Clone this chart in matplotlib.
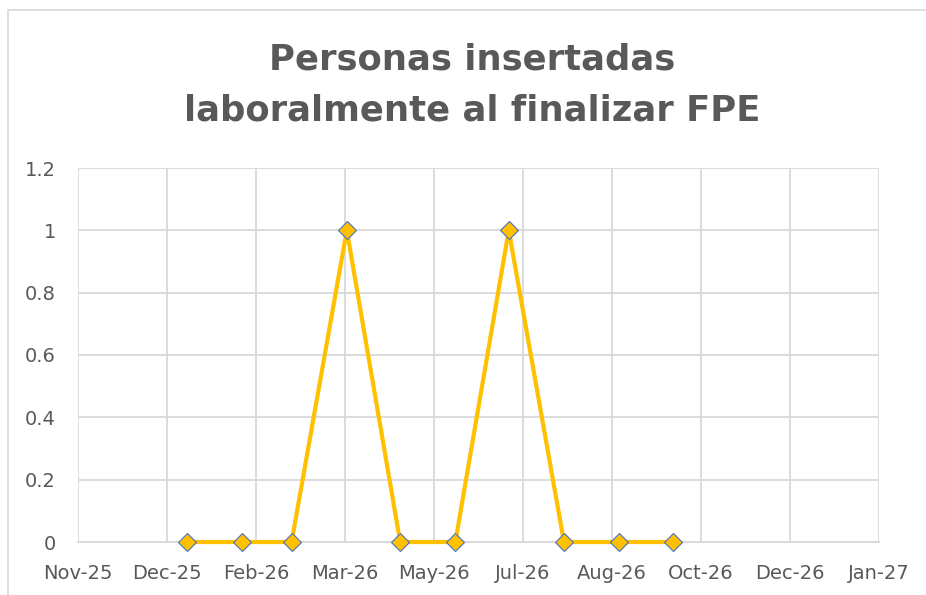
import datetime as dt
import matplotlib
matplotlib.use("Agg")
import matplotlib.pyplot as plt
import matplotlib.dates as mdates
from matplotlib.patches import Rectangle

# monthly values, Jan-26 .. Oct-26
months = [dt.date(2026, m, 1) for m in range(1, 11)]
values = [0, 0, 0, 1, 0, 0, 1, 0, 0, 0]

# date axis: Excel-style major unit of 50 days starting Nov-25
axis_start = dt.date(2025, 11, 1)
tick_dates = [axis_start + dt.timedelta(days=50 * i) for i in range(10)]
y_ticks = [0, 0.2, 0.4, 0.6, 0.8, 1, 1.2]
y_labels = ["0", "0.2", "0.4", "0.6", "0.8", "1", "1.2"]

title = "Personas insertadas\nlaboralmente al finalizar FPE"

text_color = "#595959"
grid_color = "#D9D9D9"

fig = plt.figure(figsize=(9.26, 5.95), dpi=100)
# chart area border (runs off the right and bottom of the image)
fig.patches.append(Rectangle((8 / 926, -0.05), 1.0, 1 - 10 / 595 + 0.05,
                             transform=fig.transFigure, fill=False,
                             edgecolor=grid_color, linewidth=1.2))

ax = fig.add_axes([78 / 926, 1 - 542 / 595, 801 / 926, 374 / 595])
ax.plot(months, values, color="#FFC000", linewidth=3,
        marker="D", markersize=9.5, markerfacecolor="#FFC000",
        markeredgecolor="#4472C4", markeredgewidth=0.8, zorder=3,
        clip_on=False)

ax.set_xlim(tick_dates[0], tick_dates[-1])
ax.set_ylim(0, 1.2)
ax.set_xticks(tick_dates)
ax.xaxis.set_major_formatter(mdates.DateFormatter("%b-%y"))
ax.set_yticks(y_ticks)
ax.set_yticklabels(y_labels)

ax.grid(True, color=grid_color, linewidth=1.3)
ax.set_axisbelow(True)
for s in ["top", "right", "left"]:
    ax.spines[s].set_visible(False)
ax.spines["bottom"].set_color(grid_color)
ax.spines["bottom"].set_linewidth(1.3)
ax.tick_params(axis="both", length=0, colors=text_color, labelsize=14)
ax.tick_params(axis="x", pad=16)
ax.tick_params(axis="y", pad=16)

fig.text(472 / 926, 1 - 85 / 595, title, ha="center", va="center",
         fontsize=25.5, fontweight="bold", color=text_color, linespacing=1.6)

plt.savefig("out.png", dpi=100)
